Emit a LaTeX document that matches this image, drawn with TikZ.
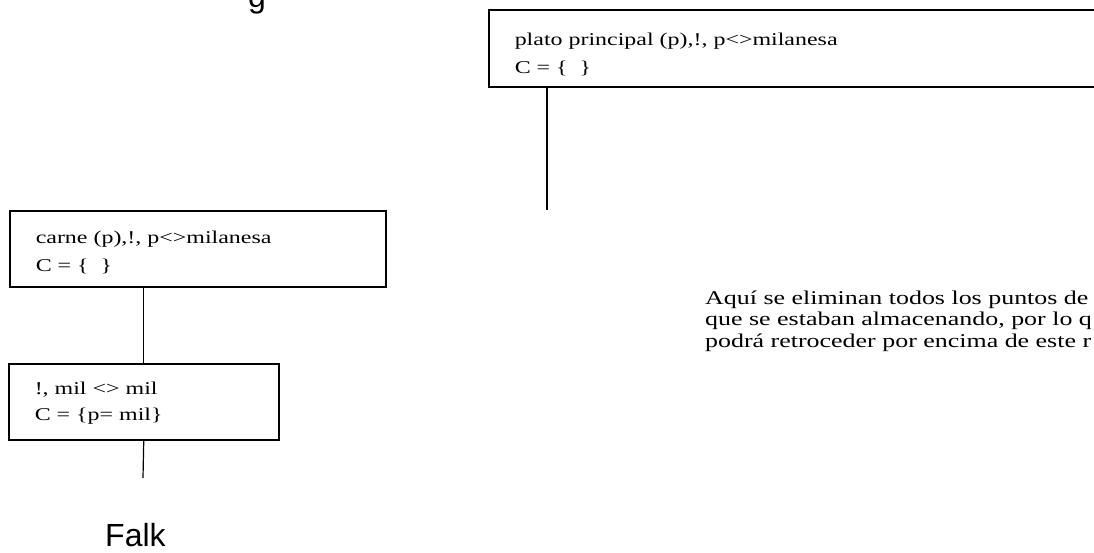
\documentclass[tikz,border=0pt]{standalone}
\usepackage{fontspec}
\setmainfont[FakeStretch=1.33]{Liberation Serif}
\newfontfamily\arialfont{Liberation Sans}

\begin{document}
\begin{tikzpicture}[x=1pt,y=-1pt,
    goal/.style={draw,line width=1.5pt,anchor=north west,align=left,
      inner xsep=26pt,inner ysep=0pt,font=\fontsize{18}{28}\selectfont},
    link/.style={line width=1.2pt},
    big/.style={font=\arialfont\fontsize{32}{36}\selectfont,anchor=base west,inner sep=0pt}]
     \useasboundingbox (0,0) rectangle (1094,552);
     \clip (0,0) rectangle (1094,552);

     %Heading, cut off at the top
     \node[big] (head) at (248,7) {g};

     %Goal boxes
     \node[goal,text width=600,minimum height=77] (plato) at (488,9)
       {\rule{0pt}{25pt}plato principal (p),!, p<>milanesa\\C = \{\ \ \}};
     \node[goal,text width=324,minimum height=76] (carne) at (9,210)
       {\rule{0pt}{19pt}carne (p),!, p<>milanesa\\C = \{\ \ \}};
     \node[goal,text width=218,minimum height=76,font=\fontsize{18}{26}\selectfont] (mil) at (8,363)
       {\rule{0pt}{15pt}!, mil <> mil\\C = \{p= mil\}};

     %Note (base = last line)
     \node[anchor=base west,align=left,inner sep=0pt,font=\fontsize{19.5}{21.5}\selectfont] (note) at (705,347)
       {Aquí se eliminan todos los puntos de\\que se estaban almacenando, por lo q\\podrá retroceder por encima de este r};

     %Fail
     \node[big] (falk) at (105,546) {Falk};

     %Links
     \coordinate (hang) at (547,210);
     \coordinate (tail) at (143,478);
     \draw[link] (hang |- plato.south) -- (hang);
     \draw[link] (mil.north |- carne.south) -- (mil.north);
     \draw[link] (mil.south) -- (tail);

\end{tikzpicture}
\end{document}
